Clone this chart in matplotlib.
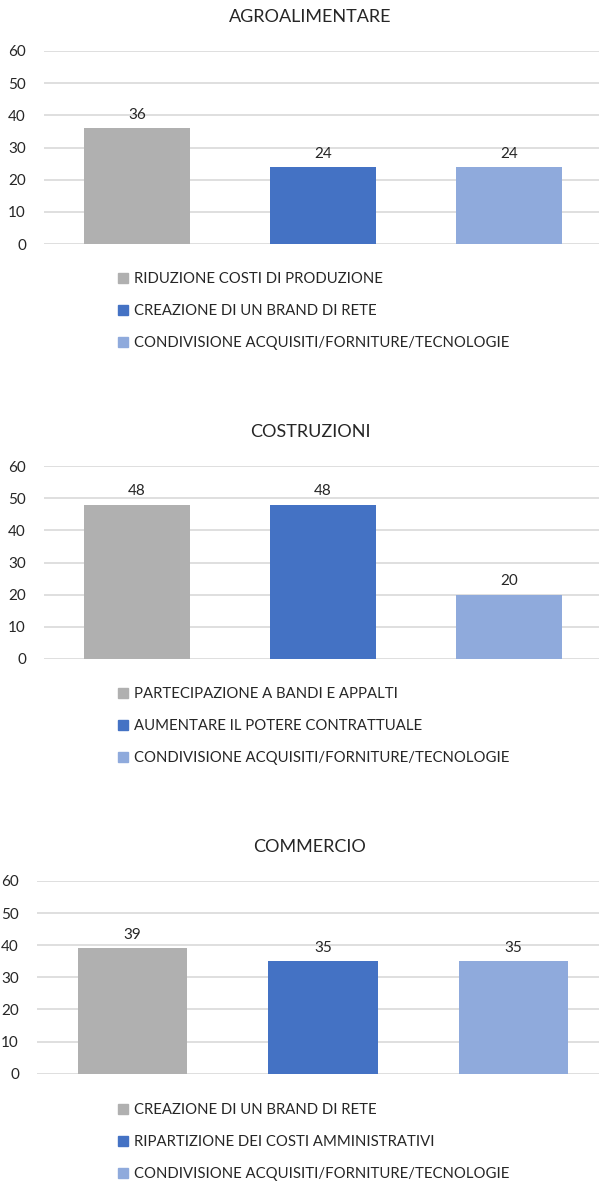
import matplotlib.pyplot as plt
from matplotlib.patches import Rectangle

plt.rcParams['font.family'] = ['Lato', 'DejaVu Sans']

titles = ['AGROALIMENTARE', 'COSTRUZIONI', 'COMMERCIO']
labels = [
    ['RIDUZIONE COSTI DI PRODUZIONE',
     'CREAZIONE DI UN BRAND DI RETE',
     'CONDIVISIONE ACQUISITI/FORNITURE/TECNOLOGIE'],
    ['PARTECIPAZIONE A BANDI E APPALTI',
     'AUMENTARE IL POTERE CONTRATTUALE',
     'CONDIVISIONE ACQUISITI/FORNITURE/TECNOLOGIE'],
    ['CREAZIONE DI UN BRAND DI RETE',
     'RIPARTIZIONE DEI COSTI AMMINISTRATIVI',
     'CONDIVISIONE ACQUISITI/FORNITURE/TECNOLOGIE'],
]
values = [
    [36, 24, 24],
    [48, 48, 20],
    [39, 35, 35],
]
yticks = [0, 10, 20, 30, 40, 50, 60]
colors = ['#B0B0B0', '#4472C4', '#8FAADC']

W, H = 599, 1182
fig = plt.figure(figsize=(W / 100, H / 100), dpi=100)

# pixel layout: (left, right, y of 0, y of 60, title y, legend top y)
layout = [
    (44, 602, 244, 51, 17, 272),
    (44, 602, 659, 466, 432, 687),
    (37, 609, 1073.6, 881, 847, 1103),
]

for i, (left, right, y0, y60, ty, ly) in enumerate(layout):
    ax = fig.add_axes([left / W, 1 - y0 / H, (right - left) / W, (y0 - y60) / H])
    x = range(len(values[i]))
    bars = ax.bar(x, values[i], width=0.575, color=colors, zorder=2)
    for b, v in zip(bars, values[i]):
        ax.annotate(str(v), (b.get_x() + b.get_width() / 2, v),
                    xytext=(0, 4.5), textcoords='offset points',
                    ha='center', va='bottom', fontsize=11, color='#262626')
    ax.set_xlim(-0.5, 2.5)
    ax.set_ylim(0, 60)
    ax.set_yticks(yticks)
    ax.set_xticks([])
    ax.grid(axis='y', color='#D9D9D9', linewidth=1.2, zorder=0)
    for s in ax.spines.values():
        s.set_visible(False)
    ax.tick_params(axis='y', length=0, pad=13, labelsize=11, labelcolor='#262626')
    fig.text(310 / W, 1 - ty / H, titles[i], ha='center', va='center',
             fontsize=13, color='#262626')
    handles = [Rectangle((0, 0), 1, 1, color=c) for c in colors]
    fig.legend(handles, labels[i], loc='upper left',
               bbox_to_anchor=(118 / W, 1 - ly / H), bbox_transform=fig.transFigure,
               frameon=False, fontsize=10.7, borderpad=0, borderaxespad=0,
               handlelength=0.65, handleheight=0.65, handletextpad=0.4,
               labelspacing=1.22, labelcolor='#262626')

fig.savefig('out.png', dpi=100)
